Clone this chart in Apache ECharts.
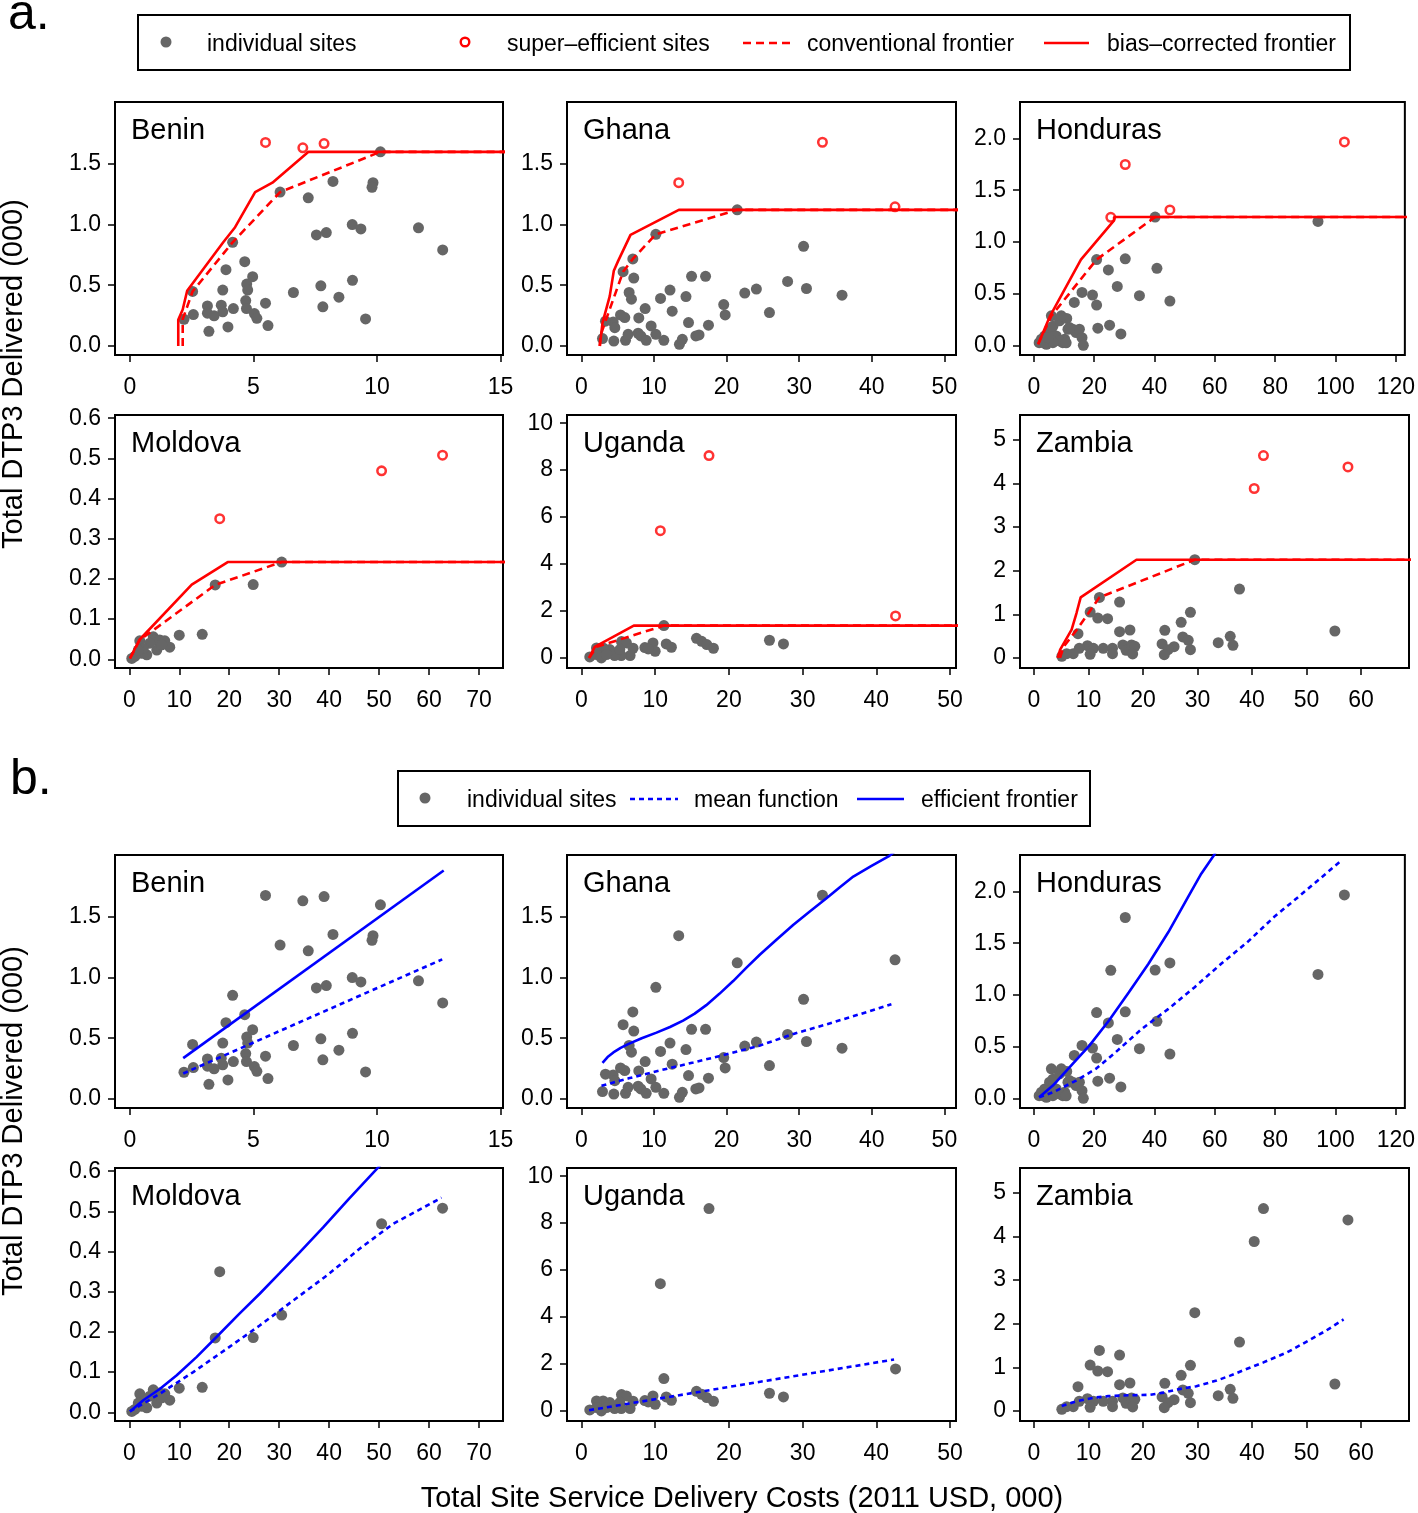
<!DOCTYPE html>
<html><head><meta charset="utf-8">
<script src="https://cdn.jsdelivr.net/npm/echarts@6/dist/echarts.min.js"></script>
<style>html,body{margin:0;padding:0;background:#fff}#c{width:1418px;height:1513px}</style>
</head><body><div id="c"></div>
<script>
// ---------------- DATA ----------------
const countries = ['Benin', 'Ghana', 'Honduras', 'Moldova', 'Uganda', 'Zambia'];

const beninSites = [[10.14,1.597],[8.22,1.354],[9.84,1.343],[9.80,1.305],[6.08,1.266],[7.22,1.219],[9.0,0.999],[9.35,0.963],[11.68,0.972],[7.55,0.914],[7.95,0.933],[4.16,0.853],[12.66,0.79],[4.65,0.694],[3.89,0.628],[4.97,0.57],[4.73,0.509],[4.77,0.46],[9.01,0.54],[7.73,0.495],[3.76,0.46],[2.54,0.449],[6.62,0.44],[8.46,0.402],[4.69,0.374],[3.14,0.33],[3.70,0.336],[5.49,0.352],[4.19,0.308],[3.76,0.281],[3.14,0.27],[3.41,0.248],[4.72,0.308],[7.81,0.322],[5.04,0.267],[5.14,0.228],[2.57,0.259],[2.19,0.22],[9.54,0.223],[3.20,0.121],[3.97,0.157],[5.59,0.168]];
const beninSuper = [[5.49,1.674],[7.0,1.63],[7.86,1.665]];
const beninConv = [[2.14,0],[2.14,0.22],[2.19,0.22],[2.54,0.449],[4.16,0.853],[6.08,1.266],[10.14,1.597],[16,1.597]];
const beninBias = [[1.96,0],[1.96,0.215],[2.14,0.30],[2.32,0.454],[3.78,0.853],[4.26,0.977],[5.07,1.266],[5.77,1.343],[7.23,1.597],[16,1.597]];
const beninMean = [[2.16,0.21],[12.64,1.148]];
const beninEff = [[2.16,0.336],[12.7,1.88]];

const ghanaSites = [[21.46,1.12],[10.25,0.919],[30.6,0.82],[7.08,0.716],[5.74,0.611],[7.21,0.559],[15.17,0.573],[17.1,0.573],[28.4,0.531],[31.0,0.473],[24.1,0.468],[22.5,0.435],[35.9,0.418],[12.2,0.46],[6.57,0.44],[6.89,0.385],[10.9,0.391],[14.4,0.407],[19.6,0.341],[8.78,0.308],[12.5,0.286],[25.9,0.275],[19.8,0.256],[5.38,0.256],[5.97,0.234],[7.9,0.231],[4.37,0.198],[3.31,0.204],[4.6,0.151],[9.6,0.165],[14.75,0.193],[17.5,0.171],[2.9,0.061],[4.46,0.041],[6.07,0.047],[6.43,0.096],[7.81,0.105],[8.18,0.083],[8.92,0.047],[10.25,0.096],[11.35,0.047],[13.5,0.014],[13.9,0.055],[15.76,0.083],[16.2,0.091]];
const ghanaSuper = [[13.4,1.343],[33.2,1.676],[43.2,1.145]];
const ghanaConv = [[2.53,0],[2.6,0.08],[3.31,0.204],[5.74,0.611],[7.08,0.716],[10.25,0.919],[21.46,1.12],[55,1.12]];
const ghanaBias = [[2.53,0],[2.9,0.19],[3.9,0.41],[4.46,0.619],[5.06,0.70],[6.76,0.914],[13.42,1.12],[55,1.12]];
const ghanaMean = [[2.76,0.109],[6.5,0.17],[10.8,0.235],[15.4,0.3],[19.5,0.36],[24.6,0.44],[29.2,0.535],[33.8,0.615],[38.5,0.7],[42.7,0.779]];
const ghanaEff = [[2.9,0.298],[3.6,0.345],[4.4,0.383],[5.4,0.42],[6.43,0.451],[8.3,0.5],[10.34,0.546],[12.2,0.592],[14.0,0.645],[15.6,0.702],[17.2,0.772],[19.0,0.865],[20.9,0.97],[22.7,1.078],[24.6,1.189],[26.9,1.312],[29.2,1.434],[31.5,1.545],[33.8,1.653],[35.6,1.742],[37.45,1.83],[39.9,1.915],[42.3,1.995],[43.5,2.05]];

const hondurasSites = [[40.2,1.242],[94.2,1.2],[20.8,0.832],[30.3,0.839],[24.7,0.732],[40.8,0.748],[27.65,0.574],[15.96,0.516],[19.45,0.49],[13.4,0.419],[20.8,0.394],[35.0,0.484],[45.1,0.432],[21.2,0.171],[25.1,0.2],[28.85,0.116],[1.75,0.032],[2.5,0.065],[3.6,0.097],[4.15,0.016],[5.2,0.161],[5.8,0.29],[6.3,0.19],[7.4,0.097],[8.5,0.242],[9.6,0.032],[10.9,0.265],[11.3,0.161],[12.9,0.161],[14.0,0.129],[15.1,0.161],[15.96,0.08],[16.4,0.006],[10.2,0.065],[8.5,0.048],[6.3,0.032],[3.1,0.032],[4.7,0.08],[10.7,0.03],[11.8,0.177],[9.1,0.29]];
const hondurasSuper = [[30.3,1.748],[25.5,1.239],[45.1,1.31],[102.95,1.965]];
const hondurasConv = [[1.4,0.016],[5.8,0.29],[20.8,0.832],[40.2,1.242],[130,1.242]];
const hondurasBias = [[1.4,0.016],[5.4,0.29],[15.6,0.832],[26.6,1.21],[26.6,1.242],[130,1.242]];
const hondurasMean = [[1.75,0.016],[6.3,0.064],[14.0,0.177],[20.5,0.289],[27.1,0.45],[35.8,0.675],[44.6,0.868],[53.3,1.077],[62.1,1.302],[70.8,1.511],[79.6,1.752],[88.3,1.961],[101.4,2.283]];
const hondurasEff = [[1.75,0.016],[6.3,0.129],[11.8,0.305],[18.4,0.514],[24.9,0.756],[31.5,1.029],[38.0,1.302],[44.6,1.608],[51.1,1.945],[55.5,2.17],[59.7,2.347],[61,2.42]];

const moldovaSites = [[30.5,0.242],[17.2,0.185],[24.8,0.186],[10.0,0.06],[14.6,0.062],[2.1,0.046],[4.8,0.056],[5.1,0.048],[6.1,0.048],[7.1,0.046],[8.1,0.03],[5.5,0.023],[3.5,0.011],[2.5,0.015],[1.1,0.007],[0.5,0.002],[4.1,0.04],[2.8,0.027],[1.8,0.023],[6.5,0.036]];
const moldovaSuper = [[18.1,0.35],[50.5,0.469],[62.7,0.508]];
const moldovaConv = [[0.13,0.002],[2.1,0.048],[17.2,0.185],[30.5,0.242],[80,0.242]];
const moldovaBias = [[0.13,0.002],[2.0,0.048],[12.5,0.186],[19.7,0.242],[80,0.242]];
const moldovaMean = [[0.13,0.002],[6.1,0.046],[12.8,0.1],[19.5,0.158],[26.1,0.216],[32.8,0.278],[39.5,0.34],[46.1,0.407],[52.8,0.469],[62.5,0.534]];
const moldovaEff = [[0.13,0.002],[2.8,0.03],[6.1,0.058],[9.5,0.092],[13.5,0.138],[17.5,0.188],[22,0.245],[26.1,0.295],[30,0.345],[34,0.397],[38.8,0.46],[44,0.532],[49.5,0.605],[51,0.625]];

const ugandaSites = [[11.18,1.376],[15.6,0.837],[16.3,0.709],[17.0,0.567],[17.9,0.411],[25.5,0.752],[27.4,0.596],[9.7,0.638],[8.6,0.44],[10.0,0.284],[11.5,0.596],[12.2,0.454],[5.43,0.695],[6.1,0.638],[7.0,0.411],[6.6,0.099],[5.4,0.099],[4.5,0.099],[3.85,0.355],[2.94,0.426],[2.04,0.426],[2.04,0.142],[1.13,0.043],[2.7,0.0],[5.2,0.355],[3.4,0.142],[9.05,0.383]];
const ugandaSuper = [[17.3,8.62],[10.7,5.42],[42.6,1.787]];
const ugandaConv = [[1.04,0],[2.04,0.47],[11.18,1.376],[55,1.376]];
const ugandaBias = [[1.04,0],[1.8,0.47],[7.1,1.376],[55,1.376]];
const ugandaMean = [[1.04,0.03],[42.4,2.19]];
const ugandaEff = [];

const zambiaSites = [[29.5,2.252],[37.7,1.58],[28.7,1.046],[27.0,0.817],[55.2,0.618],[12.0,1.389],[15.7,1.282],[10.3,1.053],[11.7,0.916],[13.5,0.9],[15.7,0.603],[17.6,0.641],[24.0,0.634],[8.07,0.557],[27.3,0.481],[28.3,0.405],[36.0,0.496],[33.8,0.351],[36.5,0.29],[23.5,0.321],[25.7,0.26],[24.6,0.191],[23.9,0.076],[28.7,0.191],[9.8,0.282],[10.9,0.221],[10.3,0.084],[8.3,0.221],[7.2,0.099],[6.0,0.099],[5.1,0.038],[12.7,0.221],[14.4,0.221],[14.4,0.099],[16.3,0.298],[16.9,0.176],[17.9,0.298],[18.5,0.267],[18.1,0.092]];
const zambiaSuper = [[42.1,4.64],[40.4,3.885],[57.6,4.38]];
const zambiaConv = [[4.77,0],[5.4,0.25],[8.1,0.69],[12.0,1.389],[29.5,2.252],[75,2.252]];
const zambiaBias = [[4.34,0],[4.8,0.19],[6.9,0.65],[7.8,1.03],[8.56,1.389],[18.8,2.252],[75,2.252]];
const zambiaMean = [[5.08,0.114],[7.9,0.225],[10.9,0.303],[13.6,0.34],[16.4,0.356],[21.3,0.371],[23.8,0.42],[26.2,0.492],[29.8,0.568],[33.5,0.697],[36.0,0.81],[38.4,0.932],[42.1,1.114],[46.4,1.341],[50.6,1.629],[53.7,1.85],[56.8,2.098]];
const zambiaEff = [];

const beninXTicks = [0, 5, 10, 15];
const beninYTicks = [0, 0.5, 1, 1.5];
const ghanaXTicks = [0, 10, 20, 30, 40, 50];
const ghanaYTicks = [0, 0.5, 1, 1.5];
const hondurasXTicks = [0, 20, 40, 60, 80, 100, 120];
const hondurasYTicks = [0, 0.5, 1, 1.5, 2];
const moldovaXTicks = [0, 10, 20, 30, 40, 50, 60, 70];
const moldovaYTicks = [0, 0.1, 0.2, 0.3, 0.4, 0.5, 0.6];
const ugandaXTicks = [0, 10, 20, 30, 40, 50];
const ugandaYTicks = [0, 2, 4, 6, 8, 10];
const zambiaXTicks = [0, 10, 20, 30, 40, 50, 60];
const zambiaYTicks = [0, 1, 2, 3, 4, 5];

const yTitle = 'Total DTP3 Delivered (000)';
const xTitle = 'Total Site Service Delivery Costs (2011 USD, 000)';
const legendA = ['individual sites', 'super\u2013efficient sites', 'conventional frontier', 'bias\u2013corrected frontier'];
const legendB = ['individual sites', 'mean function', 'efficient frontier'];

// ---------------- LAYOUT / STYLE ----------------
const FONT = '"Liberation Sans", Arial, Helvetica, sans-serif';
const GREY = '#666666', RED = '#ff0000', BLUE = '#0000ff';
const RING = 'path://M0,-5A5,5 0 1,1 0,5A5,5 0 1,1 0,-5ZM0,-2.7A2.7,2.7 0 1,0 0,2.7A2.7,2.7 0 1,0 0,-2.7Z';
const panelData = {
  Benin:    {sites: beninSites, sup: beninSuper, conv: beninConv, bias: beninBias, mean: beninMean, eff: beninEff, xt: beninXTicks, yt: beninYTicks, dec: 1, xr: [-0.6, 15.1], yr: [-0.074, 2.007]},
  Ghana:    {sites: ghanaSites, sup: ghanaSuper, conv: ghanaConv, bias: ghanaBias, mean: ghanaMean, eff: ghanaEff, xt: ghanaXTicks, yt: ghanaYTicks, dec: 1, xr: [-1.99, 51.6], yr: [-0.074, 2.007]},
  Honduras: {sites: hondurasSites, sup: hondurasSuper, conv: hondurasConv, bias: hondurasBias, mean: hondurasMean, eff: hondurasEff, xt: hondurasXTicks, yt: hondurasYTicks, dec: 1, xr: [-4.6, 123], yr: [-0.087, 2.35]},
  Moldova:  {sites: moldovaSites, sup: moldovaSuper, conv: moldovaConv, bias: moldovaBias, mean: moldovaMean, eff: moldovaEff, xt: moldovaXTicks, yt: moldovaYTicks, dec: 1, xr: [-2.86, 74.8], yr: [-0.0217, 0.608]},
  Uganda:   {sites: ugandaSites, sup: ugandaSuper, conv: ugandaConv, bias: ugandaBias, mean: ugandaMean, eff: ugandaEff, xt: ugandaXTicks, yt: ugandaYTicks, dec: 0, xr: [-1.96, 50.8], yr: [-0.43, 10.35]},
  Zambia:   {sites: zambiaSites, sup: zambiaSuper, conv: zambiaConv, bias: zambiaBias, mean: zambiaMean, eff: zambiaEff, xt: zambiaXTicks, yt: zambiaYTicks, dec: 0, xr: [-2.57, 68.8], yr: [-0.23, 5.57]}
};
const colLeft = [115, 567, 1020], colW = [388, 389, 389];
const rowTop = [[102, 415], [855, 1168]]; // section a, section b
const GH = 253;

const grids = [], xAxes = [], yAxes = [], series = [], graphics = [];
let gi = 0;
[0, 1].forEach(function (sec) {
  countries.forEach(function (name, ci) {
    const d = panelData[name];
    const col = ci % 3, row = Math.floor(ci / 3);
    const left = colLeft[col], top = rowTop[sec][row];
    grids.push({left: left, top: top, width: colW[col], height: GH, show: true, borderColor: '#000', borderWidth: 2, backgroundColor: 'transparent', containLabel: false});
    xAxes.push({gridIndex: gi, type: 'value', min: d.xr[0], max: d.xr[1], position: 'bottom',
      axisLine: {show: false, onZero: false}, splitLine: {show: false},
      axisTick: {show: true, inside: false, length: 7, customValues: d.xt, lineStyle: {color: '#000', width: 1.5}},
      axisLabel: {customValues: d.xt, fontSize: 23, fontFamily: FONT, color: '#000', margin: 21, formatter: function (v) { return String(Math.round(v)); }}});
    yAxes.push({gridIndex: gi, type: 'value', min: d.yr[0], max: d.yr[1], position: 'left',
      axisLine: {show: false, onZero: false}, splitLine: {show: false},
      axisTick: {show: true, inside: false, length: 7, customValues: d.yt, lineStyle: {color: '#000', width: 1.5}},
      axisLabel: {customValues: d.yt, fontSize: 23, fontFamily: FONT, color: '#000', margin: 14, formatter: (function (dec) { return function (v) { return Number(v).toFixed(dec); }; })(d.dec)}});
    if (sec === 0) {
      series.push({type: 'scatter', xAxisIndex: gi, yAxisIndex: gi, data: d.sites, symbol: 'circle', symbolSize: 11, itemStyle: {color: GREY, opacity: 1}, z: 2});
      series.push({type: 'scatter', xAxisIndex: gi, yAxisIndex: gi, data: d.sup, symbol: RING, symbolSize: 11, symbolKeepAspect: true, itemStyle: {color: RED, borderWidth: 0}, z: 3});
      series.push({type: 'line', xAxisIndex: gi, yAxisIndex: gi, data: d.conv, symbol: 'none', clip: true, lineStyle: {color: RED, width: 2.6, type: [8, 5]}, z: 4});
      series.push({type: 'line', xAxisIndex: gi, yAxisIndex: gi, data: d.bias, symbol: 'none', clip: true, lineStyle: {color: RED, width: 2.6, type: 'solid'}, z: 4});
    } else {
      series.push({type: 'scatter', xAxisIndex: gi, yAxisIndex: gi, data: d.sites.concat(d.sup), symbol: 'circle', symbolSize: 11, itemStyle: {color: GREY, opacity: 1}, z: 2});
      series.push({type: 'line', xAxisIndex: gi, yAxisIndex: gi, data: d.mean, symbol: 'none', clip: true, lineStyle: {color: BLUE, width: 2.6, type: [5, 4]}, z: 4});
      if (d.eff.length) series.push({type: 'line', xAxisIndex: gi, yAxisIndex: gi, data: d.eff, symbol: 'none', clip: true, lineStyle: {color: BLUE, width: 2.6, type: 'solid'}, z: 4});
    }
    graphics.push({type: 'text', x: left + 16, y: top + 29, z: 10, style: {text: name, font: '29px ' + FONT, fill: '#000', align: 'left', verticalAlign: 'middle'}});
    gi++;
  });
});

function txt(t, x, y, size, align, rot) {
  const o = {type: 'text', x: x, y: y, z: 10, style: {text: t, font: size + 'px ' + FONT, fill: '#000', align: align || 'left', verticalAlign: 'middle'}};
  if (rot) o.rotation = rot;
  return o;
}
// section labels
graphics.push(txt('a.', 8, 15, 50));
graphics.push(txt('b.', 10, 780, 50));
// axis titles
graphics.push(txt(yTitle, 14, 374, 29, 'center', Math.PI / 2));
graphics.push(txt(yTitle, 14, 1121, 29, 'center', Math.PI / 2));
graphics.push(txt(xTitle, 742, 1499, 29, 'center'));
// legend a
graphics.push({type: 'rect', shape: {x: 138, y: 15, width: 1212, height: 55}, style: {fill: 'none', stroke: '#000', lineWidth: 2}});
graphics.push({type: 'circle', shape: {cx: 166, cy: 42, r: 5.5}, style: {fill: GREY}});
graphics.push(txt(legendA[0], 207, 45, 23));
graphics.push({type: 'circle', shape: {cx: 465, cy: 42, r: 4.3}, style: {fill: 'none', stroke: RED, lineWidth: 2.4}});
graphics.push(txt(legendA[1], 507, 45, 23));
graphics.push({type: 'line', shape: {x1: 743, y1: 43, x2: 790, y2: 43}, style: {stroke: RED, lineWidth: 2.6, lineDash: [8, 5]}});
graphics.push(txt(legendA[2], 807, 45, 23));
graphics.push({type: 'line', shape: {x1: 1044, y1: 43, x2: 1089, y2: 43}, style: {stroke: RED, lineWidth: 2.6}});
graphics.push(txt(legendA[3], 1107, 45, 23));
// legend b
graphics.push({type: 'rect', shape: {x: 398, y: 771, width: 692, height: 55}, style: {fill: 'none', stroke: '#000', lineWidth: 2}});
graphics.push({type: 'circle', shape: {cx: 425, cy: 798, r: 5.5}, style: {fill: GREY}});
graphics.push(txt(legendB[0], 467, 801, 23));
graphics.push({type: 'line', shape: {x1: 630, y1: 799, x2: 678, y2: 799}, style: {stroke: BLUE, lineWidth: 2.6, lineDash: [5, 4]}});
graphics.push(txt(legendB[1], 694, 801, 23));
graphics.push({type: 'line', shape: {x1: 857, y1: 799, x2: 904, y2: 799}, style: {stroke: BLUE, lineWidth: 2.6}});
graphics.push(txt(legendB[2], 921, 801, 23));

const chart = echarts.init(document.getElementById('c'), null, {renderer: 'canvas'});
chart.setOption({animation: false, backgroundColor: '#fff', grid: grids, xAxis: xAxes, yAxis: yAxes, series: series, graphic: graphics});
</script></body></html>
